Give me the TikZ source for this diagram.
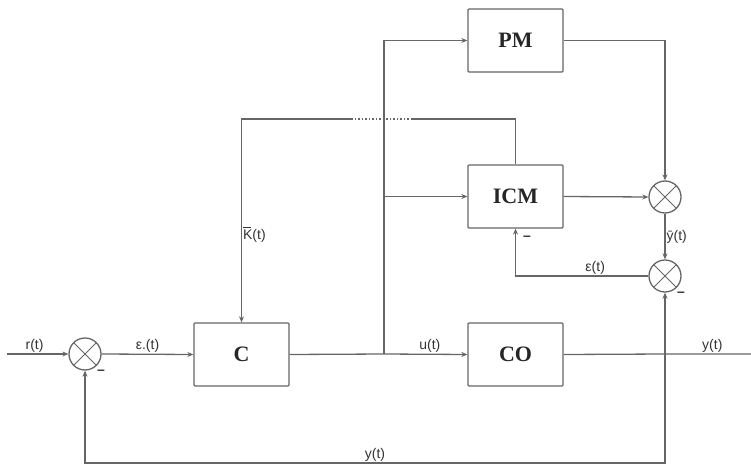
\documentclass[tikz,border=0pt]{standalone}
\usepackage{fontspec}
\setmainfont{Liberation Sans}
\newfontfamily\blockfont{Liberation Serif}
\usetikzlibrary{arrows.meta}
\newcommand{\barK}{\rlap{\raisebox{11.5pt}{\rule{8pt}{0.7pt}}}K}
\begin{document}
\begin{tikzpicture}[x=1pt,y=-1pt,
  line width=1.3pt, draw=black!60,
  every node/.style={text=black!80},
  blk/.style={draw=black!60, rectangle, rounded corners=1pt, minimum width=95pt, minimum height=63pt, inner sep=0pt, font=\blockfont\bfseries\fontsize{22}{24}\selectfont, text=black!85},
  sumj/.style={draw=black!60, circle, minimum size=32pt, inner sep=0pt,
    path picture={\draw[black!60, line width=1pt] (path picture bounding box.north west) -- (path picture bounding box.south east) (path picture bounding box.north east) -- (path picture bounding box.south west);}},
  lbl/.style={font=\fontsize{14}{16}\selectfont, inner sep=1pt},
  minus/.style={font=\bfseries\fontsize{14}{16}\selectfont, inner sep=0pt},
  arr/.style={-{Stealth[length=6pt,width=5pt]}},
  ]
\useasboundingbox (0,0) rectangle (751,465);
\node[blk] (PM) at (515.5,40.5) {PM};
\node[blk] (ICM) at (515.5,196.5) {ICM};
\node[blk] (C) at (241.5,354.5) {C};
\node[blk] (CO) at (515.5,354.5) {CO};
\node[sumj] (s1) at (85,354) {};
\node[sumj] (s2) at (665,197) {};
\node[sumj] (s3) at (665,276) {};
\coordinate (in) at (7,354);
\coordinate (out) at (751,354);
\coordinate (b1) at (384,354);
\coordinate (b1top) at (384,40.5);
\coordinate (b1mid) at (384,196.5);
\coordinate (fbR) at (515.5,119);
\coordinate (dotR) at (412,119);
\coordinate (dotL) at (352,119);
\coordinate (fbL) at (241.5,119);
\coordinate (pmR) at (665,40.5);
\coordinate (eL) at (515.5,276);
\coordinate (yj) at (665,354);
\coordinate (ybR) at (665,463);
\coordinate (ybL) at (85,463);
% main path
\draw[arr] (in) -- node[lbl, above, pos=0.45] {r(t)} (s1.west);
\draw[arr] (s1.east) -- node[lbl, above] {ε.(t)} (C.west);
\draw (C.east) -- (b1);
\draw[arr] (b1) -- node[lbl, above, pos=0.55] {u(t)} (CO.west);
\draw (CO.east) -- (yj) -- node[lbl, above, pos=0.55] {y(t)} (out);
% branches to models
\draw[arr] (b1) -- (b1top) -- (PM.west);
\draw[arr] (b1mid) -- (ICM.west);
% gain feedback
\draw (ICM.north) -- (fbR) -- (dotR);
\draw[dotted, line width=1.5pt] (dotR) -- (dotL);
\draw[arr] (dotL) -- (fbL) -- node[lbl, right, pos=0.57] {\barK(t)} (C.north);
% model outputs
\draw[arr] (PM.east) -- (pmR) -- (s2.north);
\draw[arr] (ICM.east) -- (s2.west);
\draw[arr] (s2.south) -- node[lbl, right] {ȳ(t)} (s3.north);
\draw[arr] (s3.west) -- node[lbl, above, pos=0.4] {ε(t)} (eL) -- (ICM.south);
% plant output feedback
\draw[arr] (yj) -- (s3.south);
\draw[arr] (yj) -- (ybR) -- node[lbl, above, pos=0.5] {y(t)} (ybL) -- (s1.south);
% minus signs
\node[minus] (m1) at (101,372) {–};
\node[minus] (m2) at (527,238) {–};
\node[minus] (m3) at (681,294) {–};
\end{tikzpicture}
\end{document}
